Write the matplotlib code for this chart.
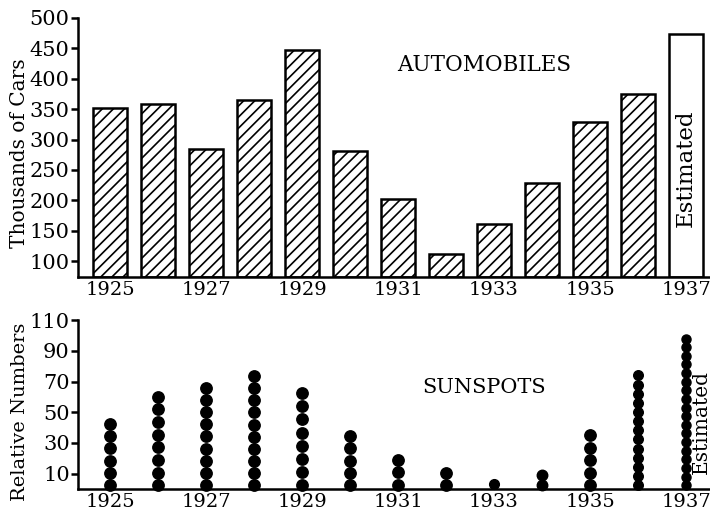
import numpy as np
import matplotlib
matplotlib.use('Agg')
import matplotlib.pyplot as plt

# データ
years = [1925, 1926, 1927, 1928, 1929, 1930, 1931, 1932, 1933, 1934, 1935, 1936, 1937]
cars = [352, 358, 284, 365, 448, 281, 202, 111, 161, 228, 329, 375, 474]  # thousands
estimated = [False] * 12 + [True]
sunspots = [42.5, 60, 66, 73.5, 62.5, 34.5, 19, 10.5, 3.5, 9, 35, 74, 98]
dot_counts = [6, 8, 9, 10, 8, 5, 3, 2, 1, 2, 5, 13, 18]
xtick_years = [1925, 1927, 1929, 1931, 1933, 1935, 1937]

plt.rcParams['font.family'] = ['DejaVu Serif']
plt.rcParams['hatch.linewidth'] = 1.2
plt.rcParams['axes.linewidth'] = 1.8

fig = plt.figure(figsize=(7.1, 5.18), dpi=100)
ax1 = fig.add_axes([0.1099, 0.4653, 0.8901, 0.5])
ax2 = fig.add_axes([0.1099, 0.056, 0.8901, 0.326])

# 上: 自動車
for y, c, est in zip(years, cars, estimated):
    ax1.bar(y, c - 74, bottom=74, width=0.69, color='white', edgecolor='black',
            linewidth=1.8, hatch=None if est else '///')
ax1.text(years[-1], 253, 'Estimated', rotation=90, ha='center', va='center', fontsize=16.5)
ax1.text(1932.8, 423, 'AUTOMOBILES', ha='center', va='center', fontsize=15.5)
ax1.set_ylim(74, 500)
ax1.set_yticks(range(100, 501, 50))
ax1.set_ylabel('Thousands of Cars', fontsize=14.5)
ax1.yaxis.set_label_coords(-0.078, 0.479)

# 下: 太陽黒点
px_per_unit = 169 / 110.0
for y, top, n in zip(years, sunspots, dot_counts):
    if n > 1:
        ys = np.linspace(2.5, top, n)
        step = (top - 2.5) / (n - 1)
        ms = min(8.2, step * px_per_unit * 0.72 * 1.05)
    else:
        ys = np.array([top])
        ms = 7
    ax2.plot([y] * n, ys, 'o', color='black', markersize=ms, clip_on=False)
ax2.text(1937.33, 43.5, 'Estimated', rotation=90, ha='center', va='center', fontsize=14.5)
ax2.text(1932.8, 66, 'SUNSPOTS', ha='center', va='center', fontsize=15)
ax2.set_ylim(0, 110)
ax2.set_yticks(range(10, 111, 20))
ax2.set_ylabel('Relative Numbers', fontsize=14)
ax2.yaxis.set_label_coords(-0.078, 0.456)

for ax in (ax1, ax2):
    ax.set_xlim(1924.333, 1937.5)
    ax.set_xticks(xtick_years)
    ax.set_xticklabels([str(t) for t in xtick_years])
    ax.spines['top'].set_visible(False)
    ax.spines['right'].set_visible(False)
    ax.tick_params(axis='x', length=0, labelsize=14, pad=3)
    ax.tick_params(axis='y', length=5, width=1.8, labelsize=15, pad=1)

plt.savefig('out.png', dpi=100)
